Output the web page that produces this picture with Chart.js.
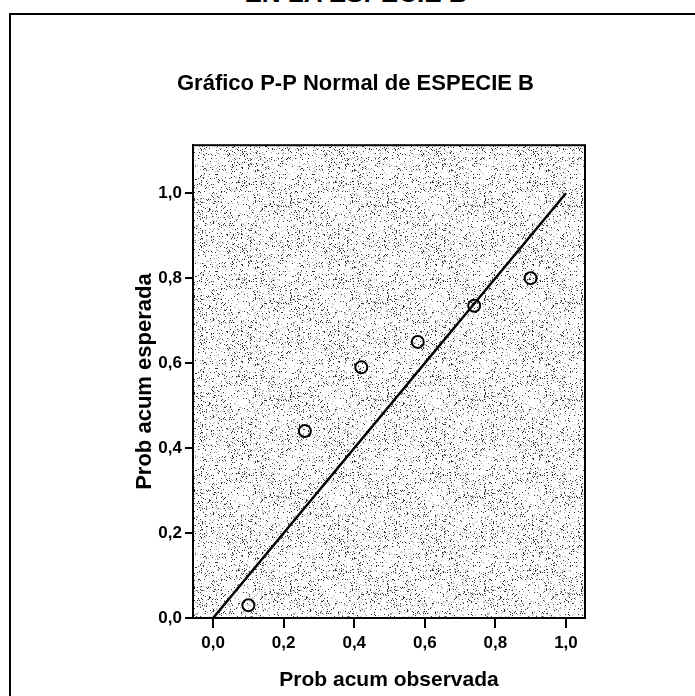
<!DOCTYPE html>
<html>
<head>
<meta charset="utf-8">
<script src="https://cdn.jsdelivr.net/npm/chart.js@4/dist/chart.umd.min.js"></script>
<style>
  body { margin: 0; background: #fff; overflow: hidden; }
  #frame { position: absolute; left: 9px; top: 13px; width: 720px; height: 720px;
           border-left: 2px solid #000; border-top: 2px solid #000; }
  #head { position: absolute; left: 0; top: -22px; width: 712px; text-align: center;
          font: bold 26px 'Liberation Sans', Arial, sans-serif; }
  canvas { position: absolute; left: 0; top: 0; }
</style>
</head>
<body>
<div id="head">EN LA ESPECIE B</div>
<div id="frame"></div>
<canvas id="ppChart" width="695" height="696"></canvas>
<script>
// P-P plot values
const observed = [0.10, 0.26, 0.42, 0.58, 0.74, 0.90];   // Prob acum observada
const expected = [0.03, 0.44, 0.59, 0.65, 0.735, 0.80];   // Prob acum esperada
const refLine = [0, 1];                                    // diagonal from (0,0) to (1,1)
const tickValues = [0, 0.2, 0.4, 0.6, 0.8, 1.0];

const face = "'Liberation Sans', Arial, sans-serif";

// stippled gray fill like the scanned SPSS plot background
function makeStipple() {
    const c = document.createElement('canvas');
    c.width = 97; c.height = 97;
    const g = c.getContext('2d');
    g.fillStyle = '#ffffff';
    g.fillRect(0, 0, c.width, c.height);
    let seed = 12345;
    const rnd = () => { seed = (seed * 1103515245 + 12345) % 2147483648; return seed / 2147483648; };
    for (let y = 0; y < c.height; y++) {
        for (let x = 0; x < c.width; x++) {
            const r = rnd();
            if (r < 0.06) { g.fillStyle = '#333'; g.fillRect(x, y, 1, 1); }
            else if (r < 0.13) { g.fillStyle = '#aaa'; g.fillRect(x, y, 1, 1); }
        }
    }
    return c;
}

const plotBox = {
    id: 'plotBox',
    beforeDatasetsDraw(chart) {
        const { ctx, chartArea: a } = chart;
        ctx.save();
        ctx.fillStyle = ctx.createPattern(makeStipple(), 'repeat');
        ctx.fillRect(a.left, a.top, a.right - a.left, a.bottom - a.top);
        ctx.restore();
    },
    afterDraw(chart) {
        const { ctx, chartArea: a } = chart;
        ctx.save();
        ctx.strokeStyle = '#000';
        ctx.lineWidth = 2;
        ctx.strokeRect(a.left, a.top, a.right - a.left, a.bottom - a.top);
        ctx.restore();
    }
};

const fmt = v => v.toFixed(1).replace('.', ',');

new Chart(document.getElementById('ppChart'), {
    data: {
        datasets: [
            {
                type: 'scatter',
                data: observed.map((x, i) => ({ x: x, y: expected[i] })),
                pointRadius: 6,
                pointBorderWidth: 2,
                borderColor: '#000',
                backgroundColor: 'rgba(0,0,0,0)'
            },
            {
                type: 'line',
                data: refLine.map(v => ({ x: v, y: v })),
                borderColor: '#000',
                borderWidth: 2.5,
                pointRadius: 0
            }
        ]
    },
    options: {
        responsive: false,
        animation: false,
        layout: { padding: { left: 16, right: 0, top: 0, bottom: 0 } },
        plugins: {
            legend: { display: false },
            tooltip: { enabled: false },
            title: {
                display: true,
                text: 'Gráfico P-P Normal de ESPECIE B',
                color: '#000',
                font: { family: face, size: 22, weight: 'bold', lineHeight: 1.2 },
                padding: { top: 71, bottom: 47.8 }
            }
        },
        scales: {
            x: {
                type: 'linear',
                min: -0.057, max: 1.054,
                afterBuildTicks: s => { s.ticks = tickValues.map(v => ({ value: v })); },
                afterFit: s => { s.height = 78; },
                grid: { drawOnChartArea: false, drawTicks: true, tickLength: 10, color: '#000', lineWidth: 2 },
                border: { display: true, color: '#000', width: 2 },
                ticks: { color: '#000', padding: 5, maxRotation: 0, font: { family: face, size: 17, weight: 'bold' }, callback: v => fmt(v) },
                title: { display: true, text: 'Prob acum observada', color: '#000',
                         font: { family: face, size: 21, weight: 'bold', lineHeight: 1.2 },
                         padding: { top: 0, bottom: 3 } }
            },
            y: {
                type: 'linear',
                min: 0, max: 1.113,
                afterBuildTicks: s => { s.ticks = tickValues.map(v => ({ value: v })); },
                afterFit: s => { s.width = 177; },
                grid: { drawOnChartArea: false, drawTicks: true, tickLength: 8, color: '#000', lineWidth: 2 },
                border: { display: true, color: '#000', width: 2 },
                ticks: { color: '#000', padding: 3, font: { family: face, size: 17, weight: 'bold' }, callback: v => fmt(v) },
                title: { display: true, text: 'Prob acum esperada', color: '#000',
                         font: { family: face, size: 22, weight: 'bold', lineHeight: 1.2 },
                         padding: { top: 116, bottom: 0 } }
            },
            // empty right-hand axis that only reserves the margin right of the plot
            yRight: {
                type: 'linear',
                position: 'right',
                min: 0, max: 1.113,
                afterFit: s => { s.width = 110; },
                grid: { display: false },
                border: { display: false },
                ticks: { display: false }
            }
        }
    },
    plugins: [plotBox]
});
</script>
</body>
</html>
